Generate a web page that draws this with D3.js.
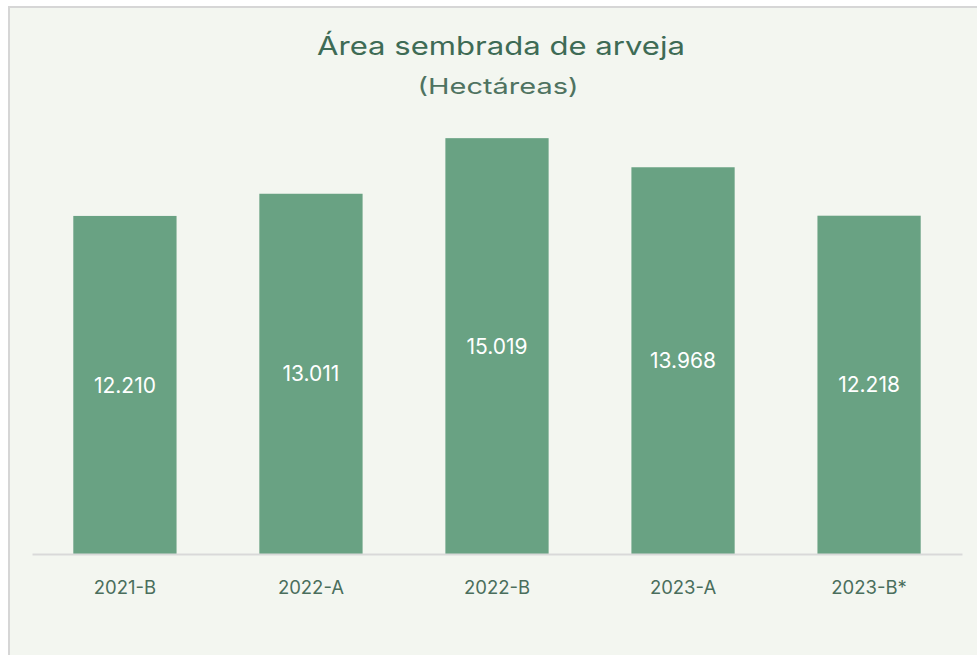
<!DOCTYPE html>
<html>
<head>
<meta charset="utf-8">
<script src="https://cdn.jsdelivr.net/npm/d3@7"></script>
<style>
  body { margin: 0; background: #ffffff; }
  svg { display: block; font-family: "Inter", "Open Sans", sans-serif; }
</style>
</head>
<body>
<div id="vis"></div>
<script>
const FRAME_WIDTH = 977;
const FRAME_HEIGHT = 655;
const MARGINS = {left: 32, right: 15, top: 111, bottom: 101};

const categories = ['2021-B', '2022-A', '2022-B', '2023-A', '2023-B*'];
const values = [12210, 13011, 15019, 13968, 12218];
const valueLabels = ['12.210', '13.011', '15.019', '13.968', '12.218'];

const BAR_COLOR = '#69a283';
const TEXT_COLOR = '#3e6b55';

const svg = d3.select('#vis')
  .append('svg')
    .attr('width', FRAME_WIDTH)
    .attr('height', FRAME_HEIGHT);

// background panel with grey border on top/left
svg.append('rect')
  .attr('x', 0).attr('y', 0)
  .attr('width', FRAME_WIDTH).attr('height', FRAME_HEIGHT)
  .attr('fill', '#ffffff');
svg.append('rect')
  .attr('x', 9).attr('y', 7)
  .attr('width', FRAME_WIDTH).attr('height', FRAME_HEIGHT)
  .attr('fill', '#f3f6f0')
  .attr('stroke', '#d6d6d6')
  .attr('stroke-width', 2);

const X_SCALE = d3.scaleBand()
  .domain(categories)
  .range([MARGINS.left, FRAME_WIDTH - MARGINS.right])
  .paddingInner(0.445)
  .paddingOuter(0.222);

const baseline = FRAME_HEIGHT - MARGINS.bottom;
const Y_SCALE = d3.scaleLinear()
  .domain([0, 16000])
  .range([baseline, MARGINS.top]);

// bars
svg.selectAll('.bar')
  .data(values)
  .enter()
  .append('rect')
    .attr('class', 'bar')
    .attr('x', (d, i) => X_SCALE(categories[i]))
    .attr('y', d => Y_SCALE(d))
    .attr('width', X_SCALE.bandwidth())
    .attr('height', d => baseline - Y_SCALE(d))
    .attr('fill', BAR_COLOR);

// value labels centred in each bar
svg.selectAll('.val')
  .data(values)
  .enter()
  .append('text')
    .attr('x', (d, i) => X_SCALE(categories[i]) + X_SCALE.bandwidth() / 2)
    .attr('y', d => (Y_SCALE(d) + baseline) / 2)
    .attr('dy', '0.36em')
    .attr('text-anchor', 'middle')
    .attr('fill', '#ffffff')
    .attr('font-size', '21px')
    .text((d, i) => valueLabels[i]);

// x axis
const xAxis = svg.append('g')
  .attr('transform', 'translate(0,' + baseline + ')')
  .call(d3.axisBottom(X_SCALE).tickSize(0).tickPadding(27));
xAxis.select('.domain')
  .attr('stroke', '#d9d9d9')
  .attr('stroke-width', 2);
xAxis.selectAll('text')
  .attr('fill', '#4a6e5c')
  .attr('font-size', '18.5px')
  .attr('font-family', '"Inter", "Open Sans", sans-serif');

// titles
svg.append('text')
  .attr('x', 501).attr('y', 55)
  .attr('text-anchor', 'middle')
  .attr('fill', TEXT_COLOR)
  .attr('font-size', '25px')
  .attr('textLength', 368)
  .attr('lengthAdjust', 'spacingAndGlyphs')
  .text('Área sembrada de arveja');
svg.append('text')
  .attr('x', 498).attr('y', 94)
  .attr('text-anchor', 'middle')
  .attr('fill', '#4f7361')
  .attr('font-size', '22px')
  .attr('textLength', 161)
  .attr('lengthAdjust', 'spacingAndGlyphs')
  .text('(Hectáreas)');
</script>
</body>
</html>
